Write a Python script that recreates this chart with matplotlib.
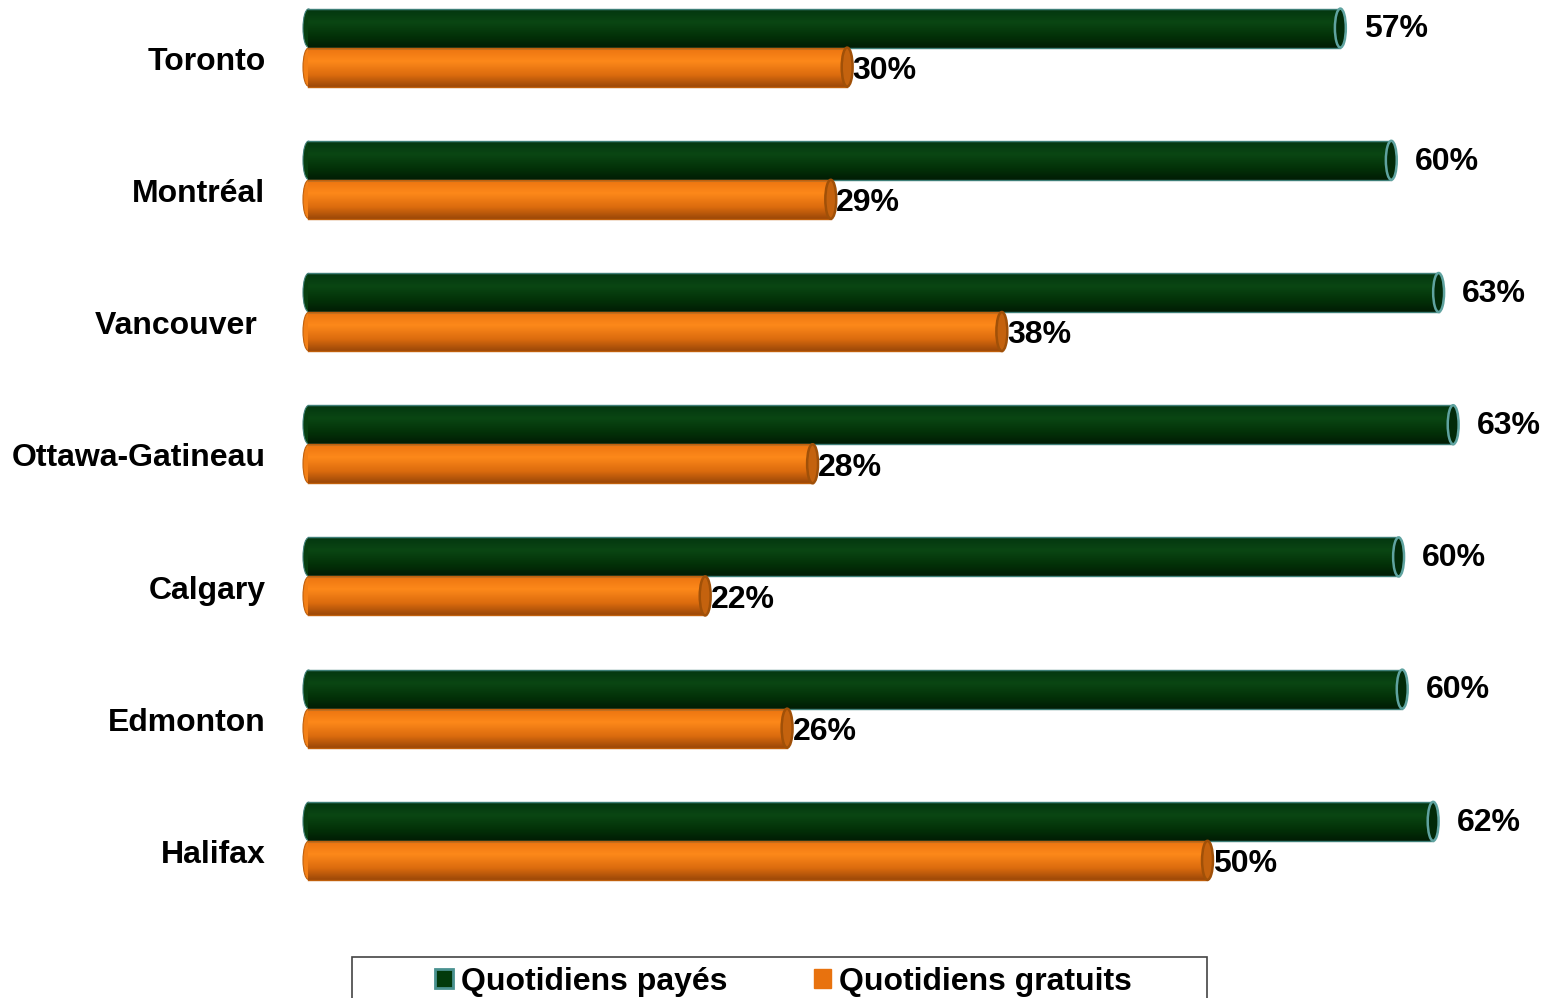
import numpy as np
import matplotlib.pyplot as plt
from matplotlib.patches import Ellipse, Rectangle, Patch
from matplotlib.colors import LinearSegmentedColormap

plt.rcParams['font.family'] = ['Liberation Sans', 'DejaVu Sans']
plt.rcParams['font.weight'] = 'bold'

# data
cities = ['Toronto', 'Montréal', 'Vancouver ', 'Ottawa-Gatineau', 'Calgary', 'Edmonton', 'Halifax']
payes = [57.0, 59.8, 62.4, 63.2, 60.2, 60.4, 62.1]
gratuits = [29.9, 29.0, 38.4, 28.0, 22.1, 26.6, 49.7]
payes_lbl = ['57%', '60%', '63%', '63%', '60%', '60%', '62%']
gratuits_lbl = ['30%', '29%', '38%', '28%', '22%', '26%', '50%']
series_names = ['Quotidiens payés', 'Quotidiens gratuits']

green_cmap = LinearSegmentedColormap.from_list(
    'g', [(0, '#2f6a5e'), (0.06, '#043810'), (0.35, '#0a4613'), (0.7, '#033208'), (1, '#011c04')])
orange_cmap = LinearSegmentedColormap.from_list(
    'o', [(0, '#d0640c'), (0.08, '#ef7812'), (0.35, '#fd881a'), (0.7, '#dc6c0e'), (1, '#9c4808')])

fig = plt.figure(figsize=(15.46, 9.98), dpi=100)
ax = fig.add_axes([303 / 1546, 1 - 940 / 998, 1 - 303 / 1546, 940 / 998])

y = np.arange(len(cities))
h = 0.295
grad = np.linspace(0, 1, 64).reshape(-1, 1)


def cylinders(vals, offset, cmap, edge, capface, capedge):
    bars = ax.barh(y + offset, vals, height=h, color='none', edgecolor='none', zorder=2)
    for b in bars:
        x0, y0 = b.get_x(), b.get_y()
        w, hh = b.get_width(), b.get_height()
        # rounded left end
        ax.add_patch(Ellipse((x0 + 0.3, y0 + hh / 2), 0.6, hh * 0.98, facecolor=cmap(0.45),
                             edgecolor=edge, lw=0.8, zorder=0.9, clip_on=False))
        r = Rectangle((x0 + 0.3, y0), w - 0.3, hh, facecolor='none', edgecolor='none', zorder=2)
        ax.add_patch(r)
        im = ax.imshow(grad, cmap=cmap, aspect='auto', extent=(x0 + 0.3, x0 + w, y0 + hh, y0),
                       interpolation='bilinear', zorder=1)
        im.set_clip_path(r)
        ax.plot([x0 + 0.3, x0 + w], [y0, y0], color=edge, lw=1.0, zorder=2)
        ax.plot([x0 + 0.3, x0 + w], [y0 + hh, y0 + hh], color=edge, lw=1.0, zorder=2)
        ax.add_patch(Ellipse((x0 + w, y0 + hh / 2), 0.6, hh, facecolor=capface,
                             edgecolor=capedge, lw=1.8, zorder=3))
    return bars


cylinders(payes, -h / 2, green_cmap, '#3f7f78', '#022a08', '#5fa3a0')
cylinders(gratuits, h / 2, orange_cmap, '#c0600c', '#c4620e', '#a05008')

fs = 23
for i in range(len(cities)):
    ax.text(payes[i] + 1.3, y[i] - h / 2 + 0.01, payes_lbl[i], va='center', ha='left', fontsize=fs,
            fontweight='bold')
    ax.text(gratuits[i] + 0.3, y[i] + h / 2 + 0.03, gratuits_lbl[i], va='center', ha='left',
            fontsize=fs, fontweight='bold')

ax.set_xlim(0, 68.3)
ax.set_ylim(6.75, -0.36)
ax.set_yticks(y + 0.08)
ax.set_yticklabels(cities, fontsize=fs, fontweight='bold')
ax.tick_params(axis='y', length=0, pad=27)
ax.set_xticks([])
for s in ax.spines.values():
    s.set_visible(False)

fig.patches.append(Rectangle((352 / 1546, -0.01), 855 / 1546, (998 - 957) / 998 + 0.01,
                             transform=fig.transFigure, facecolor='white', edgecolor='#444444',
                             lw=1.2))
handles = [Patch(facecolor='#023a0c', edgecolor='#4a9290', lw=2),
           Patch(facecolor='#e8720e', edgecolor='#e8720e')]
fig.legend(handles, series_names, loc='center', bbox_to_anchor=(0.507, 0.016), ncol=2,
           frameon=False, handlelength=0.55, handleheight=0.55,
           handletextpad=0.25, columnspacing=2.7, prop={'weight': 'bold', 'size': fs})

fig.savefig('out.png', dpi=100)
